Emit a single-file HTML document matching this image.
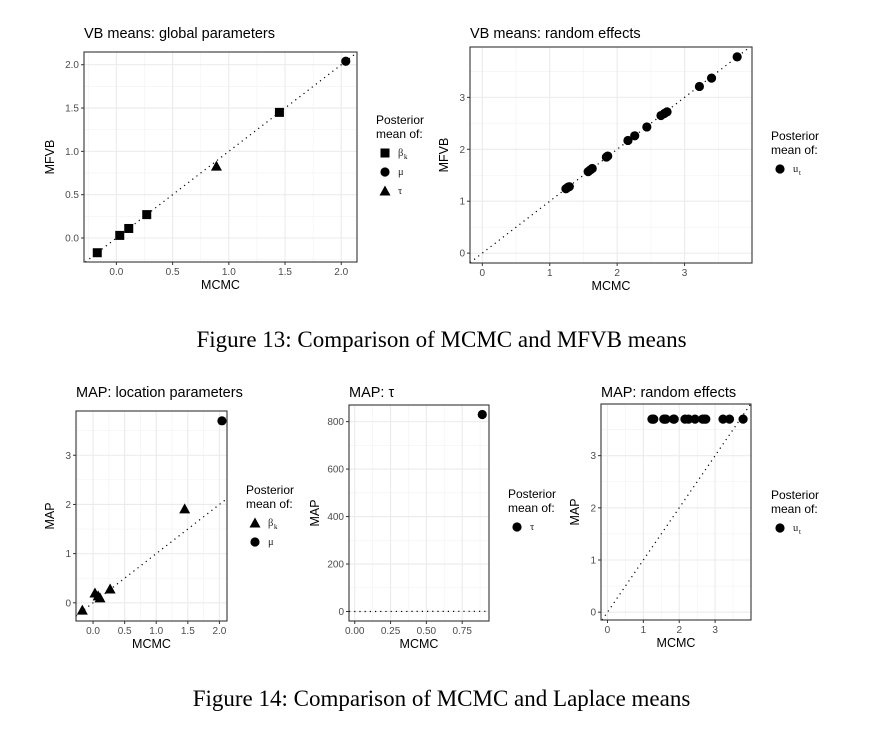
<!DOCTYPE html>
<html><head><meta charset="utf-8"><style>
html,body{margin:0;background:#fff;width:883px;height:737px;overflow:hidden}
svg{position:absolute;left:0;top:0}
.cap{position:absolute;left:0;width:883px;text-align:center;font-family:"Liberation Serif",serif;font-size:23px;line-height:26px;color:#000}
</style></head><body>
<svg id="s" width="883" height="737"></svg>
<div class="cap" style="top:327px">Figure 13: Comparison of MCMC and MFVB means</div>
<div class="cap" style="top:686px">Figure 14: Comparison of MCMC and Laplace means</div>
<script>
// Data
const p1X=[-0.17,0.03,0.11,0.27,1.45,2.04,0.89];
const p1Y=[-0.17,0.03,0.11,0.27,1.45,2.04,0.83];
const p1S=['sq','sq','sq','sq','sq','ci','tr'];
const reX=[1.24,1.27,1.29,1.57,1.60,1.63,1.84,1.86,2.16,2.26,2.44,2.65,2.70,2.74,3.22,3.40,3.78];
const reY=[1.24,1.27,1.28,1.57,1.60,1.63,1.85,1.87,2.17,2.26,2.43,2.65,2.69,2.72,3.21,3.37,3.78];
const p3X=[-0.17,0.03,0.08,0.11,0.27,1.45,2.04];
const p3Y=[-0.15,0.20,0.14,0.10,0.28,1.91,3.70];
const p3S=['tr','tr','tr','tr','tr','tr','ci'];
const tauX=[0.89];
const tauY=[830];
const mapReY=reX.map(()=>3.7);
const ticks1=[0,0.5,1,1.5,2];
const tickLab1=['0.0','0.5','1.0','1.5','2.0'];
const ticksRE=[0,1,2,3];
const ticksTauX=[0,0.25,0.5,0.75];
const tickLabTauX=['0.00','0.25','0.50','0.75'];
const ticksTauY=[0,200,400,600,800];

const NS='http://www.w3.org/2000/svg';
const svg=document.getElementById('s');
function mk(tag,at,parent){const e=document.createElementNS(NS,tag);for(const k in at)e.setAttribute(k,at[k]);(parent||svg).appendChild(e);return e;}
function txt(str,at,parent){const e=mk('text',at,parent);e.textContent=str;return e;}
function mark(g,shape,cx,cy){
  let e;
  if(shape==='sq')e=mk('rect',{x:cx-4.5,y:cy-4.5,width:9,height:9,fill:'#000'},g);
  else if(shape==='tr')e=mk('polygon',{points:`${cx},${cy-5.5} ${cx-5.5},${cy+4.5} ${cx+5.5},${cy+4.5}`,fill:'#000'},g);
  else e=mk('circle',{cx:cx,cy:cy,r:4.6,fill:'#000'},g);
  return e;
}
function panel(o){
  const g=mk('g',{});
  
  
  const sx=v=>o.L+(v-o.x0)/(o.x1-o.x0)*(o.R-o.L);
  const sy=v=>o.B-(v-o.y0)/(o.y1-o.y0)*(o.B-o.T);
  mk('rect',{x:o.L,y:o.T,width:o.R-o.L,height:o.B-o.T,fill:'#fff'},g);
  const xs=o.xt, ys=o.yt;
  const dx=xs[1]-xs[0], dy=ys[1]-ys[0];
  for(let v=xs[0]-dx/2;v<=o.x1;v+=dx){if(v>o.x0)mk('line',{x1:sx(v),x2:sx(v),y1:o.T,y2:o.B,stroke:'#f2f2f2','stroke-width':0.6},g);}
  for(let v=ys[0]-dy/2;v<=o.y1;v+=dy){if(v>o.y0)mk('line',{y1:sy(v),y2:sy(v),x1:o.L,x2:o.R,stroke:'#f2f2f2','stroke-width':0.6},g);}
  xs.forEach((v,i)=>{mk('line',{x1:sx(v),x2:sx(v),y1:o.T,y2:o.B,stroke:'#ebebeb','stroke-width':1.1},g);
    mk('line',{x1:sx(v),x2:sx(v),y1:o.B,y2:o.B+3,stroke:'#333'},g);
    const t=txt(o.xl?o.xl[i]:String(v),{x:sx(v),y:o.B+13,'font-size':10,fill:'#4d4d4d','text-anchor':'middle','font-family':'Liberation Sans,sans-serif'},g);
    });
  ys.forEach((v,i)=>{mk('line',{y1:sy(v),y2:sy(v),x1:o.L,x2:o.R,stroke:'#ebebeb','stroke-width':1.1},g);
    mk('line',{y1:sy(v),y2:sy(v),x1:o.L-3,x2:o.L,stroke:'#333'},g);
    const t=txt(o.yl?o.yl[i]:String(v),{x:o.L-5,y:sy(v)+3.5,'font-size':10,fill:'#4d4d4d','text-anchor':'end','font-family':'Liberation Sans,sans-serif'},g);
    });
  const lo=Math.max(o.x0,o.y0), hi=Math.min(o.x1,o.y1);
  const dl=mk('line',{x1:sx(lo),y1:sy(lo),x2:sx(hi),y2:sy(hi),stroke:'#000','stroke-width':1.2,'stroke-dasharray':'1.2 4'},g);
  
  o.X.forEach((v,i)=>{const m=mark(g,o.S?o.S[i]:'ci',sx(v),sy(o.Y[i]));
    });
  mk('rect',{x:o.L,y:o.T,width:o.R-o.L,height:o.B-o.T,fill:'none',stroke:'#333','stroke-width':1.1},g);
  const tt=txt(o.title,{x:o.L,y:o.ty,'font-size':14.5,fill:'#000','font-family':'Liberation Sans,"DejaVu Sans",sans-serif'},g);
  
  const xa=txt('MCMC',{x:(o.L+o.R)/2,y:o.B+27,'font-size':12.5,'text-anchor':'middle','font-family':'Liberation Sans,sans-serif'},g);
  
  const yx=o.L-o.ylo, yy=(o.T+o.B)/2;
  const ya=txt(o.ylab,{x:yx,y:yy,'font-size':12.5,'text-anchor':'middle',transform:`rotate(-90 ${yx} ${yy})`,'font-family':'Liberation Sans,sans-serif'},g);
  
  const lg=mk('g',{},g);
  
  
  txt('Posterior',{x:o.lx,y:o.ly,'font-size':12,'font-family':'Liberation Sans,sans-serif'},lg);
  txt('mean of:',{x:o.lx,y:o.ly+14,'font-size':12,'font-family':'Liberation Sans,sans-serif'},lg);
  o.leg.forEach((it,i)=>{const y=o.ly+32+i*19;mark(lg,it[0],o.lx+9,y-3);
    txt(it[1],{x:o.lx+22,y:y,'font-size':10.5,fill:'#222','font-family':'Liberation Serif,"DejaVu Serif",serif'},lg);
    if(it[2]){txt(it[2],{x:o.lx+28,y:y+3,'font-size':7,'font-family':'Liberation Serif,serif'},lg);}
  });
}
panel({name:'vb-global-panel',title:'VB means: global parameters',ty:38,L:84,R:357,T:52,B:262,x0:-0.288,x1:2.14,y0:-0.277,y1:2.147,
  xt:ticks1,yt:ticks1,xl:tickLab1,yl:tickLab1,X:p1X,Y:p1Y,S:p1S,ylab:'MFVB',ylo:30,lx:376,ly:124,
  leg:[['sq','β','k'],['ci','μ'],['tr','τ']]});
panel({name:'vb-random-panel',title:'VB means: random effects',ty:38,L:470,R:752,T:47,B:263,x0:-0.183,x1:4.0,y0:-0.19,y1:3.97,
  xt:ticksRE,yt:ticksRE,X:reX,Y:reY,ylab:'MFVB',ylo:22,lx:771,ly:140,leg:[['ci','u','t']]});
panel({name:'map-location-panel',title:'MAP: location parameters',ty:397,L:76,R:227,T:411,B:621,x0:-0.27,x1:2.12,y0:-0.37,y1:3.9,
  xt:ticks1,yt:ticksRE,xl:tickLab1,X:p3X,Y:p3Y,S:p3S,ylab:'MAP',ylo:22,lx:246,ly:494,
  leg:[['tr','β','k'],['ci','μ']]});
panel({name:'map-tau-panel',title:'MAP: τ',ty:397,L:349,R:489,T:405,B:621,x0:-0.04,x1:0.937,y0:-40,y1:870,
  xt:ticksTauX,yt:ticksTauY,xl:tickLabTauX,X:tauX,Y:tauY,ylab:'MAP',ylo:30,lx:508,ly:498,leg:[['ci','τ']]});
panel({name:'map-random-panel',title:'MAP: random effects',ty:397,L:601,R:751,T:404,B:620,x0:-0.18,x1:4.0,y0:-0.15,y1:3.99,
  xt:ticksRE,yt:ticksRE,X:reX,Y:mapReY,ylab:'MAP',ylo:22,lx:771,ly:499,leg:[['ci','u','t']]});
</script>
</body></html>
